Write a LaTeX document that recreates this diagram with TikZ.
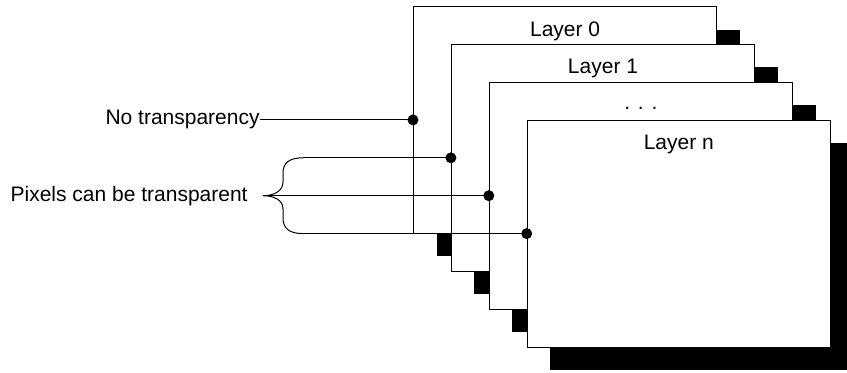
\documentclass[tikz,border=0pt]{standalone}
\usepackage{fontspec}
\setmainfont{Liberation Sans}
\usetikzlibrary{positioning,shadows}

\begin{document}
\begin{tikzpicture}[x=0.5pt,y=-0.5pt,
    layer/.style={draw,fill=white,line width=0.5pt,minimum width=151.6pt,
      minimum height=113.4pt,inner sep=0pt,
      general shadow={shadow xshift=11.5pt,shadow yshift=-11.5pt,fill=black}},
    dot/.style={circle,fill,inner sep=0pt,minimum size=5.5pt},
    lbl/.style={font=\fontsize{10.5}{12}\selectfont,inner sep=0pt},
  ]
    \useasboundingbox (0,0) rectangle (847,372);
    \node[layer] (l0) at (565.1,119.9) {};
    \node[lbl,anchor=base] (t0) at ([yshift=-15pt]l0.north) {Layer 0};
    \node[layer] (l1) at (603,157.8) {};
    \node[lbl,anchor=base] (t1) at ([yshift=-15pt]l1.north) {Layer 1};
    \node[layer] (l2) at (640.9,195.7) {};
    \node[lbl,anchor=base] (t2) at ([yshift=-14pt]l2.north) {. . .};
    \node[layer] (ln) at (678.8,233.6) {};
    \node[lbl,anchor=base] (tn) at ([yshift=-15pt]ln.north) {Layer n};

    \node[lbl,anchor=east] (notr) at (260,119.9) {No transparency};
    \node[lbl,anchor=east] (pix) at (248,195.7) {Pixels can be transparent};

    \coordinate (btop) at (303,157.8);
    \coordinate (bmid) at (263,195.7);
    \coordinate (bbot) at (303,233.6);
    \draw[line width=0.5pt] (btop) .. controls (289,157.8) and (283,163) .. (283,173)
      -- (283,182) .. controls (283,191) and (274,195.7) .. (bmid)
      .. controls (274,195.7) and (283,200) .. (283,209)
      -- (283,218) .. controls (283,228) and (289,233.6) .. (bbot);

    \draw[line width=0.5pt] (notr.east) -- (l0.west);
    \draw[line width=0.5pt] (btop) -- (l1.west);
    \draw[line width=0.5pt] (bmid) -- (l2.west);
    \draw[line width=0.5pt] (bbot) -- (ln.west);
    \node[dot] (d0) at (l0.west) {};
    \node[dot] (d1) at (l1.west) {};
    \node[dot] (d2) at (l2.west) {};
    \node[dot] (dn) at (ln.west) {};
\end{tikzpicture}
\end{document}
